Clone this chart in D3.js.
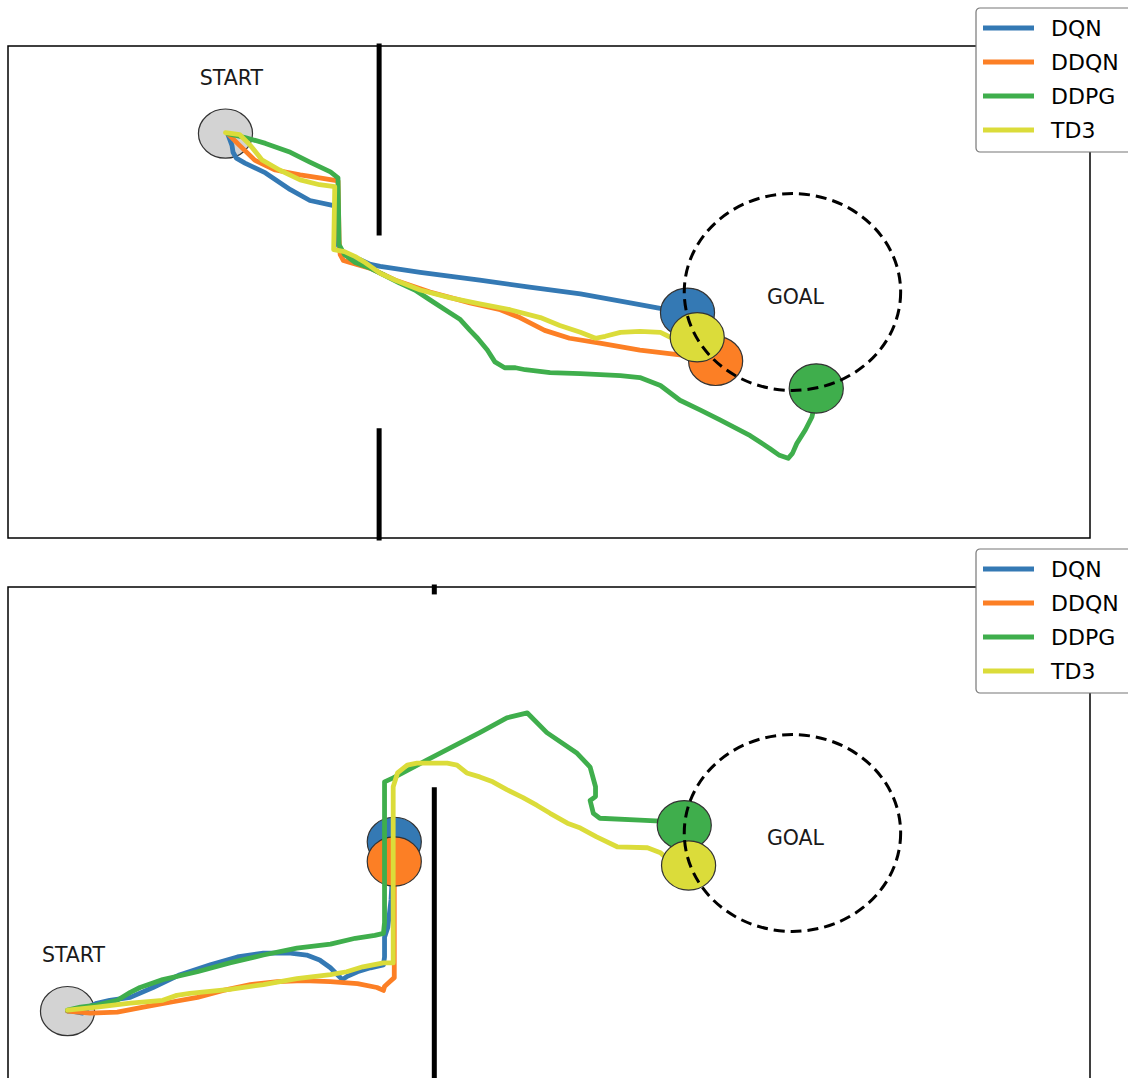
<!DOCTYPE html>
<html>
<head>
<meta charset="utf-8">
<script src="https://cdn.jsdelivr.net/npm/d3@7"></script>
<style>
  html, body { margin: 0; padding: 0; background: #fff; }
  svg { display: block; }
</style>
</head>
<body>
<div id="chart"></div>
<script>
// ---------------- DATA ----------------
const seriesNames = ["DQN", "DDQN", "DDPG", "TD3"];
const seriesColors = ["#3479b4", "#fc7f25", "#3fae4c", "#dbdc3a"];
const arena = { xMax: 10, yMax: 5 };
const goalRadius = 1.0;
const robotRadius = 0.25;

// Scenario 1 (top)
const topStart = [2.01, 4.11];
const topGoal = [7.25, 2.50];
const topWalls = [[3.43, 5.0, 3.10], [3.43, 1.09, 0.0]];
const topDQN = [[2.03,4.11],[2.07,3.99],[2.08,3.92],[2.11,3.86],[2.19,3.81],[2.38,3.71],[2.61,3.54],[2.79,3.43],[3.00,3.38],[3.04,3.37],[3.05,2.98],[3.07,2.93],[3.11,2.88],[3.25,2.83],[3.35,2.78],[3.44,2.76],[3.81,2.70],[4.36,2.62],[4.82,2.55],[5.29,2.48],[5.75,2.39],[6.04,2.33],[6.28,2.29]];
const topDDQN = [[2.03,4.11],[2.14,3.99],[2.28,3.84],[2.47,3.74],[2.70,3.69],[2.88,3.66],[3.05,3.63],[3.06,3.03],[3.07,2.88],[3.10,2.82],[3.16,2.80],[3.35,2.74],[3.58,2.62],[3.90,2.50],[4.27,2.39],[4.55,2.32],[4.73,2.24],[4.96,2.11],[5.19,2.03],[5.47,1.98],[5.84,1.91],[6.21,1.86],[6.49,1.83],[6.54,1.80]];
const topDDPG = [[2.03,4.11],[2.19,4.07],[2.38,4.01],[2.61,3.92],[2.79,3.82],[2.98,3.72],[3.05,3.66],[3.06,2.98],[3.11,2.88],[3.21,2.80],[3.35,2.74],[3.48,2.67],[3.62,2.59],[3.76,2.52],[3.90,2.42],[4.04,2.32],[4.18,2.22],[4.27,2.11],[4.34,2.03],[4.43,1.91],[4.50,1.79],[4.59,1.73],[4.69,1.73],[4.78,1.71],[5.01,1.68],[5.29,1.67],[5.66,1.65],[5.84,1.63],[6.03,1.55],[6.21,1.40],[6.40,1.30],[6.58,1.20],[6.86,1.04],[7.04,0.91],[7.13,0.84],[7.21,0.81],[7.25,0.86],[7.29,0.96],[7.37,1.10],[7.43,1.23],[7.44,1.28],[7.46,1.40],[7.47,1.52]];
const topTD3 = [[2.01,4.12],[2.14,4.10],[2.24,3.99],[2.35,3.84],[2.51,3.74],[2.70,3.64],[2.88,3.59],[3.02,3.57],[3.01,2.93],[3.11,2.91],[3.21,2.86],[3.30,2.80],[3.35,2.76],[3.44,2.69],[3.58,2.62],[3.81,2.52],[4.09,2.44],[4.36,2.38],[4.64,2.32],[4.92,2.24],[5.10,2.16],[5.29,2.09],[5.43,2.03],[5.52,2.05],[5.66,2.09],[5.84,2.10],[6.03,2.09],[6.14,2.03],[6.37,2.04]];

// Scenario 2 (bottom)
const botStart = [0.55, 0.69];
const botGoal = [7.25, 2.50];
const botWalls = [[3.94, 5.0, 4.95], [3.94, 2.94, 0.0]];
const botDQN = [[0.55,0.69],[0.59,0.69],[0.69,0.67],[0.76,0.74],[0.82,0.77],[0.94,0.80],[1.13,0.83],[1.34,0.93],[1.59,1.06],[1.87,1.16],[2.12,1.24],[2.36,1.28],[2.61,1.28],[2.76,1.26],[2.88,1.21],[2.98,1.13],[3.09,1.01],[3.13,1.04],[3.23,1.09],[3.35,1.13],[3.47,1.16],[3.48,1.24],[3.48,1.44],[3.51,1.54],[3.54,1.82],[3.57,2.41]];
const botDDQN = [[0.55,0.69],[0.76,0.67],[1.01,0.68],[1.25,0.73],[1.50,0.78],[1.75,0.83],[1.99,0.90],[2.24,0.96],[2.49,0.99],[2.73,1.00],[2.98,0.99],[3.23,0.97],[3.41,0.93],[3.47,0.90],[3.48,0.94],[3.53,0.99],[3.57,1.03],[3.57,1.14],[3.57,2.21]];
const botDDPG = [[0.55,0.70],[0.67,0.73],[0.82,0.75],[1.01,0.80],[1.13,0.88],[1.22,0.93],[1.43,1.01],[1.75,1.09],[2.05,1.18],[2.36,1.26],[2.67,1.33],[2.98,1.37],[3.21,1.43],[3.39,1.46],[3.47,1.48],[3.48,1.59],[3.48,2.02],[3.48,2.84],[3.48,3.02],[3.56,3.06],[3.87,3.24],[4.36,3.52],[4.61,3.67],[4.80,3.72],[4.98,3.52],[5.26,3.31],[5.38,3.17],[5.43,2.97],[5.43,2.87],[5.38,2.83],[5.41,2.70],[5.47,2.65],[5.84,2.63],[6.03,2.62],[6.25,2.58]];
const botTD3 = [[0.55,0.70],[0.82,0.73],[1.13,0.77],[1.43,0.80],[1.56,0.85],[1.68,0.87],[2.05,0.91],[2.36,0.96],[2.67,1.02],[2.98,1.06],[3.13,1.09],[3.28,1.14],[3.47,1.18],[3.56,1.18],[3.56,2.97],[3.60,3.11],[3.69,3.19],[3.78,3.21],[4.06,3.21],[4.15,3.19],[4.24,3.11],[4.36,3.07],[4.48,3.02],[4.61,2.94],[4.76,2.86],[4.89,2.78],[5.01,2.70],[5.17,2.60],[5.29,2.55],[5.44,2.46],[5.63,2.36],[5.91,2.35],[6.03,2.30],[6.07,2.26],[6.29,2.17]];

const panels = [
  { start: topStart, goal: topGoal, walls: topWalls, paths: [topDQN, topDDQN, topDDPG, topTD3], top: 46, legendTop: 8 },
  { start: botStart, goal: botGoal, walls: botWalls, paths: [botDQN, botDDQN, botDDPG, botTD3], top: 587, legendTop: 549 }
];

// ---------------- DRAW ----------------
const W = 1128, H = 1078;
const svg = d3.select("#chart").append("svg").attr("width", W).attr("height", H)
  .style("font-family", "'DejaVu Sans', sans-serif");

const left = 8, plotW = 1082, plotH = 492;
const sx = d3.scaleLinear().domain([0, arena.xMax]).range([left, left + plotW]);

panels.forEach(p => {
  const sy = d3.scaleLinear().domain([0, arena.yMax]).range([p.top + plotH, p.top]);
  const g = svg.append("g");
  const rx = r => sx(r) - sx(0);
  const ry = r => sy(0) - sy(r);

  // frame
  g.append("rect").attr("x", sx(0)).attr("y", sy(arena.yMax))
    .attr("width", sx(arena.xMax) - sx(0)).attr("height", sy(0) - sy(arena.yMax))
    .attr("fill", "none").attr("stroke", "#000").attr("stroke-width", 1.5);

  // walls
  g.selectAll("line.wall").data(p.walls).join("line").attr("class", "wall")
    .attr("x1", d => sx(d[0])).attr("x2", d => sx(d[0]))
    .attr("y1", d => sy(d[1])).attr("y2", d => sy(d[2]))
    .attr("stroke", "#000").attr("stroke-width", 5).attr("stroke-linecap", "square");

  // start
  g.append("ellipse").attr("cx", sx(p.start[0])).attr("cy", sy(p.start[1]))
    .attr("rx", rx(robotRadius)).attr("ry", ry(robotRadius))
    .attr("fill", "#d3d3d3").attr("stroke", "#333").attr("stroke-width", 1.2);
  g.append("text").attr("x", sx(p.start[0]) + 6).attr("y", sy(p.start[1]) - 49)
    .attr("text-anchor", "middle").attr("font-size", 20.5).attr("fill", "#1a1a1a").text("START");

  // trajectories + end robots
  const line = d3.line().x(d => sx(d[0])).y(d => sy(d[1])).curve(d3.curveLinear);
  p.paths.forEach((path, i) => {
    g.append("path").attr("d", line(path)).attr("fill", "none")
      .attr("stroke", seriesColors[i]).attr("stroke-width", 4.8)
      .attr("stroke-linejoin", "round").attr("stroke-linecap", "round");
    const end = path[path.length - 1];
    g.append("ellipse").attr("cx", sx(end[0])).attr("cy", sy(end[1]))
      .attr("rx", rx(robotRadius)).attr("ry", ry(robotRadius))
      .attr("fill", seriesColors[i]).attr("stroke", "#333").attr("stroke-width", 1.2);
  });

  // goal
  g.append("ellipse").attr("cx", sx(p.goal[0])).attr("cy", sy(p.goal[1]))
    .attr("rx", rx(goalRadius)).attr("ry", ry(goalRadius))
    .attr("fill", "none").attr("stroke", "#000").attr("stroke-width", 3)
    .attr("stroke-dasharray", "11,6");
  g.append("text").attr("x", sx(p.goal[0]) + 3).attr("y", sy(p.goal[1]) + 12)
    .attr("text-anchor", "middle").attr("font-size", 20.5).attr("fill", "#1a1a1a").text("GOAL");

  // legend
  const lg = svg.append("g").attr("transform", `translate(976,${p.legendTop})`);
  lg.append("rect").attr("x", 0).attr("y", 0).attr("width", 170).attr("height", 144)
    .attr("rx", 4).attr("fill", "#fff").attr("stroke", "#777").attr("stroke-width", 1.2);
  seriesNames.forEach((name, i) => {
    const yy = 20 + i * 34;
    lg.append("line").attr("x1", 7).attr("x2", 58).attr("y1", yy).attr("y2", yy)
      .attr("stroke", seriesColors[i]).attr("stroke-width", 4.8);
    lg.append("text").attr("x", 75).attr("y", yy + 8).attr("font-size", 22)
      .attr("fill", "#000").text(name);
  });
});
</script>
</body>
</html>
